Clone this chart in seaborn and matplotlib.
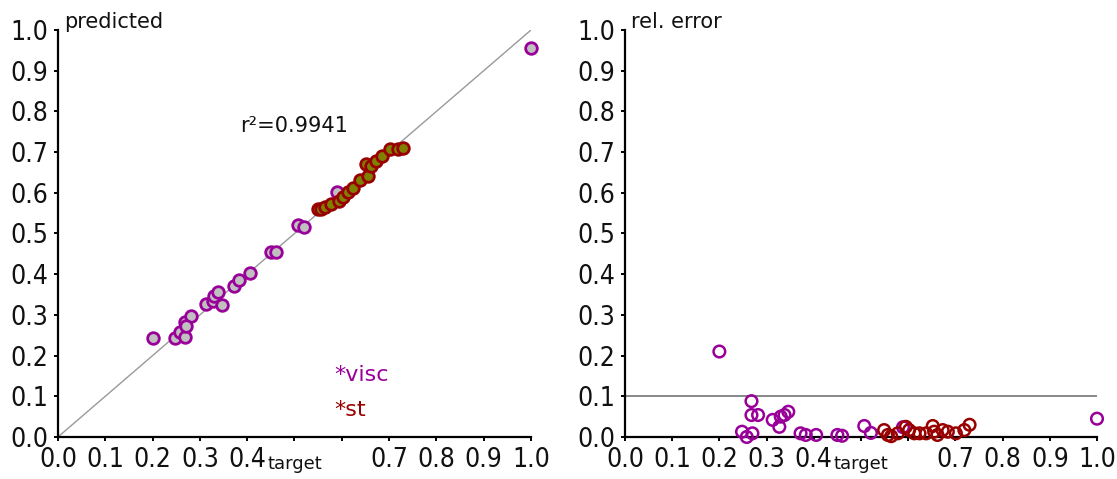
import numpy as np
import pandas as pd
import matplotlib
matplotlib.use("Agg")
import matplotlib.pyplot as plt
from matplotlib import font_manager
import seaborn as sns

# ---- data -----------------------------------------------------------------
visc_target = [0.200, 0.248, 0.258, 0.268, 0.268, 0.282, 0.270, 0.313, 0.327,
               0.330, 0.338, 0.346, 0.372, 0.383, 0.405, 0.450, 0.460, 0.507,
               0.521, 0.589, 1.000]
visc_pred = [0.244, 0.243, 0.257, 0.245, 0.283, 0.297, 0.272, 0.327, 0.335,
             0.347, 0.356, 0.325, 0.370, 0.385, 0.404, 0.455, 0.455, 0.522,
             0.517, 0.603, 0.955]
visc_relerr = [0.210, 0.013, 0.000, 0.088, 0.054, 0.054, 0.009, 0.042, 0.025,
               0.050, 0.054, 0.062, 0.009, 0.005, 0.005, 0.005, 0.003, 0.027,
               0.010, 0.024, 0.045]

st_target = [0.549, 0.557, 0.564, 0.578, 0.595, 0.602, 0.613, 0.624, 0.638,
             0.652, 0.655, 0.662, 0.673, 0.684, 0.701, 0.719, 0.730]
st_pred = [0.560, 0.560, 0.565, 0.573, 0.580, 0.590, 0.603, 0.611, 0.632,
           0.670, 0.641, 0.665, 0.678, 0.690, 0.707, 0.707, 0.709]
st_relerr = [0.017, 0.005, 0.002, 0.009, 0.025, 0.017, 0.009, 0.009, 0.009,
             0.027, 0.013, 0.005, 0.017, 0.013, 0.009, 0.017, 0.030]

r2_text = "r\u00b2=0.9941"
error_limit = 0.1
tick_values = [0.0, 0.1, 0.2, 0.3, 0.4, 0.5, 0.6, 0.7, 0.8, 0.9, 1.0]
x_tick_labels = ["0.0", "0.1", "0.2", "0.3", "0.4", "", "", "0.7", "0.8", "0.9", "1.0"]
y_tick_labels = ["0.0", "0.1", "0.2", "0.3", "0.4", "0.5", "0.6", "0.7", "0.8", "0.9", "1.0"]

df = pd.concat([
    pd.DataFrame({"target": visc_target, "predicted": visc_pred,
                  "rel_error": visc_relerr, "series": "visc"}),
    pd.DataFrame({"target": st_target, "predicted": st_pred,
                  "rel_error": st_relerr, "series": "st"}),
], ignore_index=True)

# ---- style ----------------------------------------------------------------
sns.set_theme(style="white")
plt.rcParams["font.family"] = ["DejaVu Sans"]

# pick a narrow face for the numeric tick labels
narrow = None
for f in font_manager.fontManager.ttflist:
    if f.name == "Liberation Sans Narrow":
        narrow = ("Liberation Sans Narrow", "normal", 20)
        break
if narrow is None:
    for f in font_manager.fontManager.ttflist:
        if f.name == "DejaVu Sans" and str(f.stretch) in ("condensed", "semi-condensed"):
            narrow = ("DejaVu Sans", "condensed", 19)
            break
if narrow is None:
    narrow = ("Liberation Sans", "normal", 19)
tick_family, tick_stretch, tick_fs = narrow

PURPLE = "#990099"
DARKRED = "#990000"
styles = {
    "visc": dict(edge=PURPLE, fill="#C0C0C0"),
    "st": dict(edge=DARKRED, fill="#808000"),
}

fig = plt.figure(figsize=(11.17, 4.79), dpi=100)
ax1 = fig.add_axes([0.0519, 0.0877, 0.4235, 0.8497])
ax2 = fig.add_axes([0.5595, 0.0877, 0.4226, 0.8497])

label_fs = 15

for ax in (ax1, ax2):
    ax.set_xlim(0, 1)
    ax.set_ylim(0, 1)
    for side in ("top", "right"):
        ax.spines[side].set_visible(False)
    for side in ("left", "bottom"):
        ax.spines[side].set_color("black")
        ax.spines[side].set_linewidth(1.6)
    ax.set_xticks(tick_values)
    ax.set_xticklabels(x_tick_labels)
    ax.set_yticks(tick_values)
    ax.set_yticklabels(y_tick_labels)
    ax.tick_params(axis="both", direction="out", length=3, width=1.4,
                   color="black", labelsize=tick_fs, bottom=True, left=True)
    ax.tick_params(axis="x", pad=4)
    ax.tick_params(axis="y", pad=4)
    for lab in ax.get_xticklabels() + ax.get_yticklabels():
        lab.set_fontfamily(tick_family)
        lab.set_fontstretch(tick_stretch)
        lab.set_color("#111111")
    ax.text(0.5, -0.066, "target", transform=ax.transAxes, ha="center",
            va="center", fontsize=13, color="#111111")
    ax.set_facecolor("white")

# predicted vs target
ax1.plot([0, 1], [0, 1], color="#999999", lw=1.0, zorder=1)
for name in ("visc", "st"):
    sub = df[df["series"] == name]
    sns.scatterplot(data=sub, x="target", y="predicted", ax=ax1,
                    color=styles[name]["fill"], edgecolor=styles[name]["edge"],
                    linewidth=2.0, s=70, marker="o", clip_on=False, zorder=3,
                    legend=False)
ax1.set_xlabel("")
ax1.set_ylabel("")
ax1.text(0.012, 1.02, "predicted", transform=ax1.transAxes, ha="left",
         va="center", fontsize=label_fs, color="#111111")
ax1.text(0.5, 0.765, r2_text, ha="center", va="center", fontsize=label_fs,
         color="#111111")
ax1.text(0.585, 0.152, "*visc", ha="left", va="center", fontsize=16,
         color=PURPLE)
ax1.text(0.585, 0.066, "*st", ha="left", va="center", fontsize=16,
         color=DARKRED)

# relative error vs target
ax2.plot([0, 1], [error_limit, error_limit], color="#888888", lw=1.4, zorder=1)
for name in ("visc", "st"):
    sub = df[df["series"] == name]
    sns.scatterplot(data=sub, x="target", y="rel_error", ax=ax2,
                    facecolor="none", edgecolor=styles[name]["edge"],
                    linewidth=1.8, s=70, marker="o", clip_on=False, zorder=3,
                    legend=False)
ax2.set_xlabel("")
ax2.set_ylabel("")
ax2.text(0.012, 1.02, "rel. error", transform=ax2.transAxes, ha="left",
         va="center", fontsize=label_fs, color="#111111")

fig.savefig("out.png", dpi=100, facecolor="white")
